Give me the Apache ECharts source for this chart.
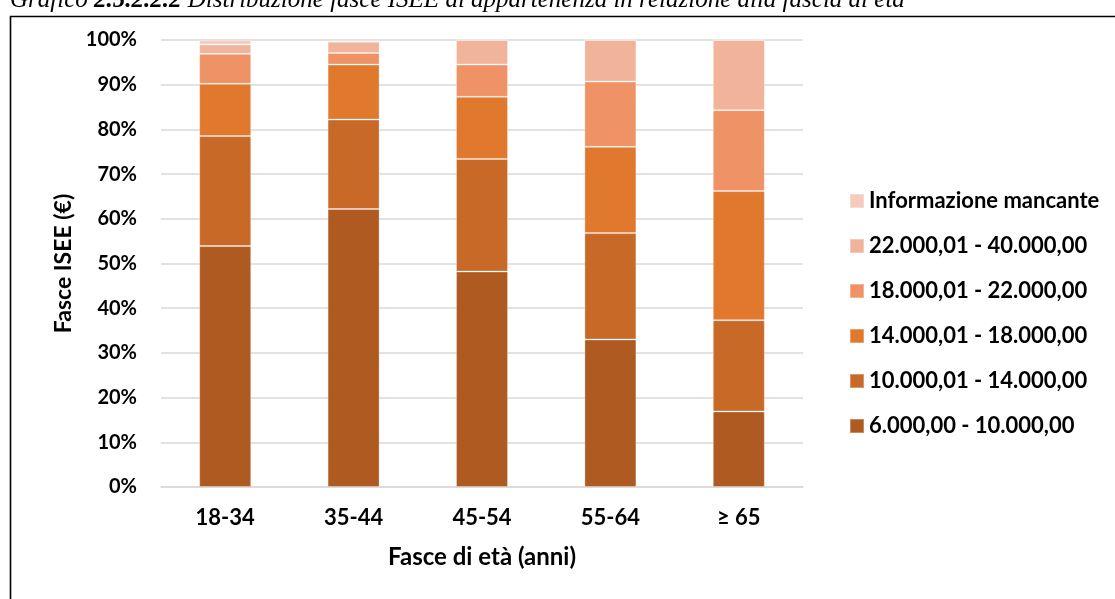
<!DOCTYPE html>
<html>
<head>
<meta charset="utf-8">
<script src="https://cdn.jsdelivr.net/npm/echarts@6/dist/echarts.min.js"></script>
<style>html,body{margin:0;padding:0;background:#fff;}#c{width:1115px;height:599px;}</style>
</head>
<body>
<div id="c"></div>
<script>
const categories = ['18-34', '35-44', '45-54', '55-64', '≥ 65'];
const seriesNames = ['6.000,00 - 10.000,00', '10.000,01 - 14.000,00', '14.000,01 - 18.000,00', '18.000,01 - 22.000,00', '22.000,01 - 40.000,00', 'Informazione mancante'];
const band6_10 = [53.9, 62.2, 48.2, 33.0, 16.9];
const band10_14 = [24.6, 20.0, 25.2, 23.8, 20.4];
const band14_18 = [11.7, 12.3, 13.9, 19.3, 28.9];
const band18_22 = [6.7, 2.6, 7.2, 14.6, 18.1];
const band22_40 = [2.1, 2.5, 5.5, 9.3, 15.7];
const bandMissing = [1.0, 0.4, 0, 0, 0];
const colors = ['#AF5A21', '#C96928', '#E0782E', '#EF9266', '#F2B39B', '#F5CBBC'];
const yTicks = [0, 10, 20, 30, 40, 50, 60, 70, 80, 90, 100];

const bands = [band6_10, band10_14, band14_18, band18_22, band22_40, bandMissing];
const font = 'Lato, "Open Sans", sans-serif';

const chart = echarts.init(document.getElementById('c'));
chart.setOption({
  animation: false,
  backgroundColor: '#fff',
  graphic: [
    {
      type: 'rect', silent: true, z: 0,
      shape: { x: 10.5, y: 16.5, width: 1120, height: 620 },
      style: { fill: 'none', stroke: '#000', lineWidth: 1.6 }
    },
    {
      type: 'text', left: 10, top: -12, z: 10,
      style: {
        text: '{n|Grafico }{b|2.5.2.2.2}{n| Distribuzione fasce ISEE di appartenenza in relazione alla fascia di età}',
        rich: {
          n: { fontFamily: '"Liberation Serif", serif', fontStyle: 'italic', fontSize: 25, fill: '#000' },
          b: { fontFamily: '"Liberation Serif", serif', fontStyle: 'italic', fontWeight: 'bold', fontSize: 25, fill: '#000' }
        }
      }
    }
  ],
  grid: { left: 161, right: 312, top: 40, bottom: 112, containLabel: false },
  legend: {
    orient: 'vertical', left: 844, top: 183,
    itemWidth: 14, itemHeight: 14, itemGap: 19,
    icon: 'rect',
    data: seriesNames.slice().reverse(),
    textStyle: { fontFamily: font, fontWeight: 'bold', fontSize: 22, color: '#000', lineHeight: 26 }
  },
  xAxis: {
    type: 'category', data: categories,
    axisLine: { show: true, lineStyle: { color: '#D9D9D9', width: 1.5 } },
    axisTick: { show: false },
    axisLabel: { fontFamily: font, fontWeight: 'bold', fontSize: 22, color: '#000', margin: 20 },
    name: 'Fasce di età (anni)', nameLocation: 'middle', nameGap: 58,
    nameTextStyle: { fontFamily: font, fontWeight: 'bold', fontSize: 24, color: '#000' }
  },
  yAxis: {
    type: 'value', min: 0, max: 100, interval: 10,
    axisLine: { show: false }, axisTick: { show: false },
    splitLine: { lineStyle: { color: '#D9D9D9', width: 1.5 } },
    axisLabel: {
      fontFamily: font, fontWeight: 'bold', fontSize: 20, color: '#000', margin: 24,
      formatter: v => (yTicks.indexOf(v) >= 0 ? v + '%' : '')
    },
    name: 'Fasce ISEE (€)', nameLocation: 'middle', nameGap: 86, nameRotate: 90,
    nameTextStyle: { fontFamily: font, fontWeight: 'bold', fontSize: 23, color: '#000' }
  },
  series: bands.map((d, i) => ({
    name: seriesNames[i], type: 'bar', stack: 'total', data: d,
    barWidth: 52,
    itemStyle: { color: colors[i], borderColor: 'rgba(255,255,255,0.3)', borderWidth: 1 }
  }))
});
</script>
</body>
</html>
